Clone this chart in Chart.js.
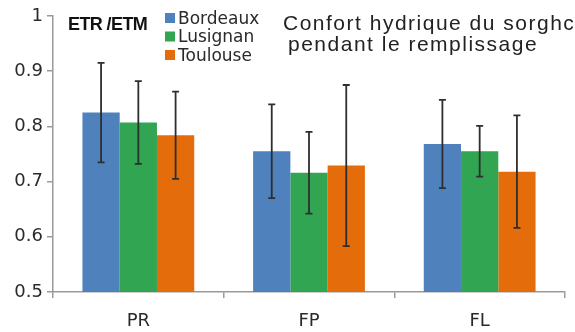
<!DOCTYPE html>
<html>
<head>
<meta charset="utf-8">
<script src="https://cdn.jsdelivr.net/npm/chart.js@4"></script>
<style>
  html, body { margin: 0; padding: 0; background: #fff; }
  #wrap { width: 575px; height: 332px; position: relative; }
</style>
</head>
<body>
<div id="wrap"><canvas id="etrChart"></canvas></div>
<script>
// Stades de remplissage
const stages = ['PR', 'FP', 'FL'];

// ETR/ETM moyen par site
const bordeaux = [0.825, 0.755, 0.768];
const lusignan = [0.807, 0.716, 0.755];
const toulouse = [0.784, 0.729, 0.718];

// écart-type (barres d'erreur)
const bordeauxErr = [0.090, 0.085, 0.080];
const lusignanErr = [0.075, 0.074, 0.046];
const toulouseErr = [0.079, 0.146, 0.102];

const yTicks = [0.5, 0.6, 0.7, 0.8, 0.9, 1];

const textFont = 'DejaVu Sans';

// barres d'erreur dessinées à partir de l'échelle y
const errorBars = {
    id: 'errorBars',
    afterDatasetsDraw(chart) {
        const ctx = chart.ctx;
        const y = chart.scales.y;
        ctx.save();
        ctx.strokeStyle = '#2e2e2e';
        ctx.lineWidth = 1.8;
        chart.data.datasets.forEach((ds, i) => {
            const meta = chart.getDatasetMeta(i);
            meta.data.forEach((bar, j) => {
                const v = ds.data[j];
                const e = ds.errors[j];
                const top = y.getPixelForValue(v + e);
                const bot = y.getPixelForValue(v - e);
                ctx.beginPath();
                ctx.moveTo(bar.x, top);
                ctx.lineTo(bar.x, bot);
                ctx.moveTo(bar.x - 3.5, top);
                ctx.lineTo(bar.x + 3.5, top);
                ctx.moveTo(bar.x - 3.5, bot);
                ctx.lineTo(bar.x + 3.5, bot);
                ctx.stroke();
            });
        });
        ctx.restore();
    }
};

// titre, unité et légende placés dans la zone du graphique
const annotations = {
    id: 'annotations',
    afterDraw(chart) {
        const ctx = chart.ctx;
        ctx.save();
        ctx.textBaseline = 'alphabetic';
        ctx.textAlign = 'left';

        ctx.fillStyle = '#111';
        ctx.font = 'bold 18px "Liberation Sans"';
        ctx.letterSpacing = '-0.6px';
        ctx.fillText('ETR /ETM', 68, 30);

        ctx.fillStyle = '#222';
        ctx.font = '21px "Liberation Sans"';
        ctx.letterSpacing = '1.5px';
        ctx.fillText('Confort hydrique du sorghc', 283, 30);
        ctx.fillText('pendant le remplissage', 288, 51);

        ctx.letterSpacing = '0px';
        ctx.font = '17px "' + textFont + '"';
        chart.data.datasets.forEach((ds, i) => {
            const base = 23.5 + i * 18.5;
            ctx.fillStyle = ds.backgroundColor;
            ctx.fillRect(165, base - 10.5, 10, 10);
            ctx.fillStyle = '#2a2a2a';
            ctx.fillText(ds.label, 178, base);
        });
        ctx.restore();
    }
};

new Chart(document.getElementById('etrChart'), {
    type: 'bar',
    data: {
        labels: stages,
        datasets: [
            { label: 'Bordeaux', data: bordeaux, errors: bordeauxErr, backgroundColor: '#4f81bd' },
            { label: 'Lusignan', data: lusignan, errors: lusignanErr, backgroundColor: '#31a552' },
            { label: 'Toulouse', data: toulouse, errors: toulouseErr, backgroundColor: '#e46c0a' }
        ]
    },
    options: {
        responsive: true,
        maintainAspectRatio: false,
        animation: false,
        categoryPercentage: 0.655,
        barPercentage: 1,
        layout: { padding: { top: 16, right: 10, left: 0, bottom: 0 } },
        plugins: {
            legend: { display: false },
            tooltip: { enabled: false }
        },
        scales: {
            x: {
                grid: { drawOnChartArea: false, drawTicks: true, tickLength: 6, color: '#9a9a9a', lineWidth: 1.5 },
                border: { color: '#9a9a9a', width: 1.5 },
                ticks: { color: '#2a2a2a', padding: 13, font: { family: textFont, size: 18 } },
                afterFit(scale) { scale.height = 40; }
            },
            y: {
                min: 0.5,
                max: 1,
                afterBuildTicks(scale) { scale.ticks = yTicks.map(v => ({ value: v })); },
                grid: { drawOnChartArea: false, drawTicks: true, tickLength: 6, color: '#9a9a9a', lineWidth: 1.5 },
                border: { color: '#9a9a9a', width: 1.5 },
                ticks: {
                    color: '#2a2a2a',
                    padding: 4,
                    font: { family: textFont, size: 18 },
                    callback: v => String(v)
                },
                afterFit(scale) { scale.width = 53; }
            }
        }
    },
    plugins: [errorBars, annotations]
});
</script>
</body>
</html>
